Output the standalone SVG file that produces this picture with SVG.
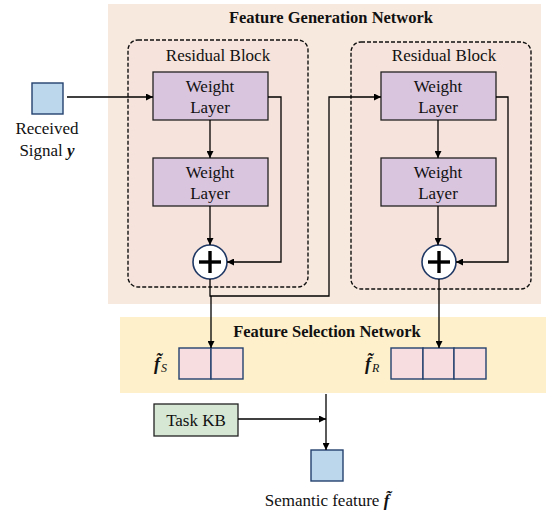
<svg xmlns="http://www.w3.org/2000/svg" width="546" height="512" viewBox="0 0 546 512" font-family="'Liberation Serif', 'Times New Roman', serif">
<defs>
<marker id="ah" viewBox="0 0 10 10" refX="10" refY="5" markerWidth="7" markerHeight="7" markerUnits="userSpaceOnUse" orient="auto">
<path d="M0,0 L10,5 L0,10 z" fill="#000"/>
</marker>
<style>
text{font-family:"Liberation Serif","Times New Roman",serif;fill:#111;}
.t{font-size:17px;text-anchor:middle;}
.title{font-size:16.5px;font-weight:bold;text-anchor:middle;}
.wl{fill:#dac5df;stroke:#222;stroke-width:1.3;}
.rb{fill:#f6e3db;stroke:#111;stroke-width:1.4;stroke-dasharray:4,2;}
.cell{fill:#f7dde0;stroke:#24406e;stroke-width:1.4;}
.sq{fill:#bcd6ec;stroke:#24406e;stroke-width:1.4;}
.ln{fill:none;stroke:#000;stroke-width:1.3;}
.sum{fill:#fff;stroke:#1f3864;stroke-width:1.6;}
.plus{stroke:#000;stroke-width:3.4;}
</style>
</defs>

<g id="feature-generation-network">
<rect x="108" y="4" width="433" height="300" fill="#f8e9de"/>
<text class="title" x="331" y="23">Feature Generation Network</text>
</g>
<g id="feature-selection-network">
<rect x="120" y="317" width="426" height="76" fill="#fdf0cb"/>
<text class="title" x="327" y="337">Feature Selection Network</text>
</g>

<g id="residual-block-1">
<rect class="rb" x="128" y="40" width="180" height="247" rx="10"/>
<text class="t" x="218" y="61">Residual Block</text>
</g>
<g id="residual-block-2">
<rect class="rb" x="351" y="42" width="180" height="247" rx="10"/>
<text class="t" x="444" y="61">Residual Block</text>
</g>

<g id="input">
<rect class="sq" x="32" y="83" width="31" height="31"/>
<text class="t" x="47" y="134">Received</text>
<text class="t" x="47" y="156">Signal <tspan font-weight="bold" font-style="italic">y</tspan></text>
</g>

<g id="wl-1a"><rect class="wl" x="153" y="72" width="115" height="48"/><text class="t" x="210" y="92">Weight</text><text class="t" x="210" y="113">Layer</text></g>
<g id="wl-1b"><rect class="wl" x="153" y="158" width="115" height="48"/><text class="t" x="210" y="178">Weight</text><text class="t" x="210" y="199">Layer</text></g>
<g id="wl-2a"><rect class="wl" x="381" y="72" width="115" height="48"/><text class="t" x="438" y="92">Weight</text><text class="t" x="438" y="113">Layer</text></g>
<g id="wl-2b"><rect class="wl" x="381" y="158" width="115" height="48"/><text class="t" x="438" y="178">Weight</text><text class="t" x="438" y="199">Layer</text></g>

<g id="sum-1"><circle class="sum" cx="210" cy="262" r="17"/><line class="plus" x1="199" y1="262" x2="221" y2="262"/><line class="plus" x1="210" y1="251" x2="210" y2="273"/></g>
<g id="sum-2"><circle class="sum" cx="439" cy="262" r="17"/><line class="plus" x1="428" y1="262" x2="450" y2="262"/><line class="plus" x1="439" y1="251" x2="439" y2="273"/></g>

<g id="f-s">
<rect class="cell" x="179" y="348" width="32" height="31"/>
<rect class="cell" x="211" y="348" width="32" height="31"/>
<text x="154" y="370" font-size="18" font-weight="bold" font-style="italic">f̃<tspan font-size="12" font-weight="normal" dx="1" dy="2">S</tspan></text>
</g>
<g id="f-r">
<rect class="cell" x="391" y="348" width="32" height="31"/>
<rect class="cell" x="423" y="348" width="31" height="31"/>
<rect class="cell" x="454" y="348" width="32" height="31"/>
<text x="365" y="370" font-size="18" font-weight="bold" font-style="italic">f̃<tspan font-size="12" font-weight="normal" dx="1" dy="2">R</tspan></text>
</g>

<g id="task-kb">
<rect x="154" y="404" width="84" height="32" fill="#d6e8d4" stroke="#222" stroke-width="1.3"/>
<text class="t" x="196" y="426">Task KB</text>
</g>

<g id="output">
<rect class="sq" x="311" y="450" width="32" height="31"/>
<text class="t" x="327" y="506">Semantic feature <tspan font-weight="bold" font-style="italic">f̃</tspan></text>
</g>

<g id="connectors">
<path class="ln" d="M67,97 H153" marker-end="url(#ah)"/>
<path class="ln" d="M210,120 V158" marker-end="url(#ah)"/>
<path class="ln" d="M210,206 V245" marker-end="url(#ah)"/>
<path class="ln" d="M268,97 H281 V262 H227" marker-end="url(#ah)"/>
<path class="ln" d="M438,120 V158" marker-end="url(#ah)"/>
<path class="ln" d="M438,206 V245" marker-end="url(#ah)"/>
<path class="ln" d="M496,97 H508 V262 H456" marker-end="url(#ah)"/>
<path class="ln" d="M210,279 V296 H329 V97 H381" marker-end="url(#ah)"/>
<path class="ln" d="M211,296 V348" marker-end="url(#ah)"/>
<path class="ln" d="M439,279 V348" marker-end="url(#ah)"/>
<path class="ln" d="M326,394 V450" marker-end="url(#ah)"/>
<path class="ln" d="M238,419 H326" marker-end="url(#ah)"/>
</g>
</svg>
